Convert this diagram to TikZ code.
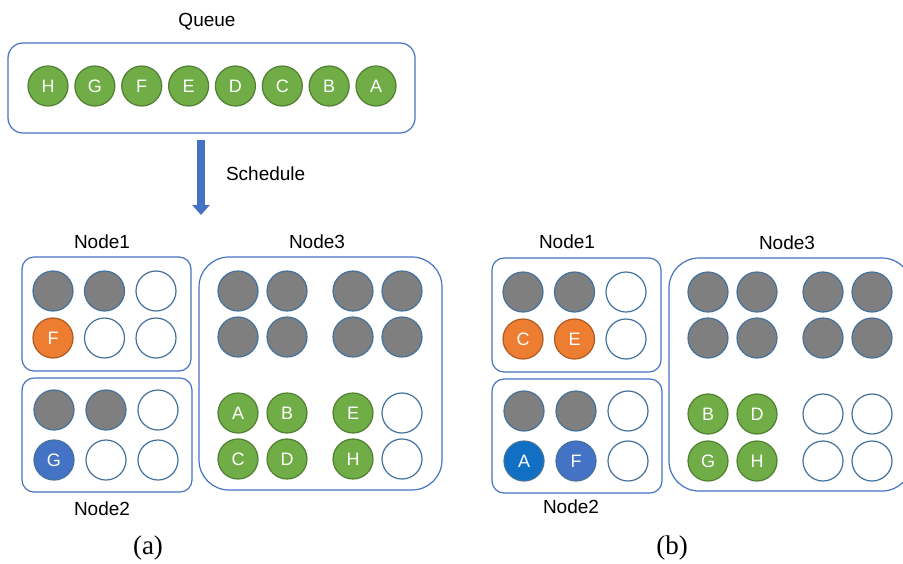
\documentclass[tikz,border=0pt]{standalone}
\usepackage{fontspec}
\setmainfont{Liberation Serif}
\setsansfont{Liberation Sans}
\usetikzlibrary{arrows.meta}

\definecolor{boxline}{HTML}{4472C4}
\definecolor{slotline}{HTML}{41719C}
\definecolor{busygray}{HTML}{7F7F7F}
\definecolor{taskgreen}{HTML}{70AD47}
\definecolor{greenline}{HTML}{507E32}
\definecolor{taskorange}{HTML}{ED7D31}
\definecolor{orangeline}{HTML}{AE5A21}
\definecolor{taskblue}{HTML}{4472C4}
\definecolor{taskdeep}{HTML}{1170C4}

\tikzset{
  slot/.style={circle,minimum size=20pt,inner sep=0pt,line width=0.6pt,
    font=\sffamily\fontsize{9}{10}\selectfont,text=white},
  slotfree/.style={slot,draw=slotline,fill=white},
  slotbusy/.style={slot,draw=slotline,fill=busygray},
  slotgreen/.style={slot,draw=greenline,fill=taskgreen},
  slotorange/.style={slot,draw=orangeline,fill=taskorange},
  slotblue/.style={slot,draw=slotline,fill=taskblue},
  slotdeep/.style={slot,draw=slotline,fill=taskdeep},
  box/.style={draw=boxline,line width=0.6pt,rounded corners=6pt},
  title/.style={font=\sffamily\fontsize{9.5}{11}\selectfont},
  caption/.style={font=\fontsize{13.5}{15}\selectfont},
}

\begin{document}
\begin{tikzpicture}[x=0.5pt,y=-0.5pt]
\path[use as bounding box] (0,0) rectangle (903,563);
\clip (0,0) rectangle (903,563);

% queue
\draw[box,rounded corners=7.5pt] (8,43) rectangle (415,133);
\node[title] (queue) at (207,22) {Queue};
\foreach \t [count=\i] in {H,G,F,E,D,C,B,A}
  \node[slotgreen] (q\i) at ({48+46.86*(\i-1)},86) {\t};

\coordinate (sched-top) at (201,140);
\coordinate (sched-end) at (201,215);
\draw[taskblue,line width=4pt,-{Triangle[width=8.5pt,length=5pt]}] (sched-top) -- (sched-end);
\node[title,anchor=west] (schedule) at (219,174) {Schedule};

% (a)
\begin{scope}
\draw[box] (22,257) rectangle (191,371);
\draw[box] (22,378) rectangle (192,492);
\draw[box,rounded corners=15pt] (199,257) rectangle (442,490);
\node[title] (a-node1) at (102,242) {Node1};
\node[title] (a-node2) at (102,509) {Node2};
\node[title] (a-node3) at (317,242) {Node3};

\foreach \s/\t [count=\i] in {slotbusy/,slotbusy/,slotfree/}
  \node[\s] (a1-1-\i) at ({53+51.5*(\i-1)},291) {\t};
\foreach \s/\t [count=\i] in {slotorange/F,slotfree/,slotfree/}
  \node[\s] (a1-2-\i) at ({53+51.5*(\i-1)},338) {\t};
\foreach \s/\t [count=\i] in {slotbusy/,slotbusy/,slotfree/}
  \node[\s] (a2-1-\i) at ({54+52*(\i-1)},410) {\t};
\foreach \s/\t [count=\i] in {slotblue/G,slotfree/,slotfree/}
  \node[\s] (a2-2-\i) at ({54+52*(\i-1)},460) {\t};

\foreach \s/\t [count=\i] in {slotbusy/,slotbusy/,slotbusy/,slotbusy/}
  \node[\s] (a3-1-\i) at ({238+49*(\i-1)+17*(\i>2)},291) {\t};
\foreach \s/\t [count=\i] in {slotbusy/,slotbusy/,slotbusy/,slotbusy/}
  \node[\s] (a3-2-\i) at ({238+49*(\i-1)+17*(\i>2)},337) {\t};
\foreach \s/\t [count=\i] in {slotgreen/A,slotgreen/B,slotgreen/E,slotfree/}
  \node[\s] (a3-3-\i) at ({238+49*(\i-1)+17*(\i>2)},413) {\t};
\foreach \s/\t [count=\i] in {slotgreen/C,slotgreen/D,slotgreen/H,slotfree/}
  \node[\s] (a3-4-\i) at ({238+49*(\i-1)+17*(\i>2)},459) {\t};
\end{scope}
\node[caption] (cap-a) at (148,548) {(a)};

% (b)
\begin{scope}[shift={(470,1)}]
\draw[box] (22,257) rectangle (191,371);
\draw[box] (22,378) rectangle (192,492);
\draw[box,rounded corners=15pt] (199,257) rectangle (442,490);
\node[title] (b-node1) at (97,241) {Node1};
\node[title] (b-node2) at (101,506) {Node2};
\node[title] (b-node3) at (317,242) {Node3};

\foreach \s/\t [count=\i] in {slotbusy/,slotbusy/,slotfree/}
  \node[\s] (b1-1-\i) at ({53+51.5*(\i-1)},291) {\t};
\foreach \s/\t [count=\i] in {slotorange/C,slotorange/E,slotfree/}
  \node[\s] (b1-2-\i) at ({53+51.5*(\i-1)},338) {\t};
\foreach \s/\t [count=\i] in {slotbusy/,slotbusy/,slotfree/}
  \node[\s] (b2-1-\i) at ({54+52*(\i-1)},410) {\t};
\foreach \s/\t [count=\i] in {slotdeep/A,slotblue/F,slotfree/}
  \node[\s] (b2-2-\i) at ({54+52*(\i-1)},460) {\t};

\foreach \s/\t [count=\i] in {slotbusy/,slotbusy/,slotbusy/,slotbusy/}
  \node[\s] (b3-1-\i) at ({238+49*(\i-1)+17*(\i>2)},291) {\t};
\foreach \s/\t [count=\i] in {slotbusy/,slotbusy/,slotbusy/,slotbusy/}
  \node[\s] (b3-2-\i) at ({238+49*(\i-1)+17*(\i>2)},337) {\t};
\foreach \s/\t [count=\i] in {slotgreen/B,slotgreen/D,slotfree/,slotfree/}
  \node[\s] (b3-3-\i) at ({238+49*(\i-1)+17*(\i>2)},413) {\t};
\foreach \s/\t [count=\i] in {slotgreen/G,slotgreen/H,slotfree/,slotfree/}
  \node[\s] (b3-4-\i) at ({238+49*(\i-1)+17*(\i>2)},460) {\t};
\end{scope}
\node[caption] (cap-b) at (672,548) {(b)};

\end{tikzpicture}
\end{document}
